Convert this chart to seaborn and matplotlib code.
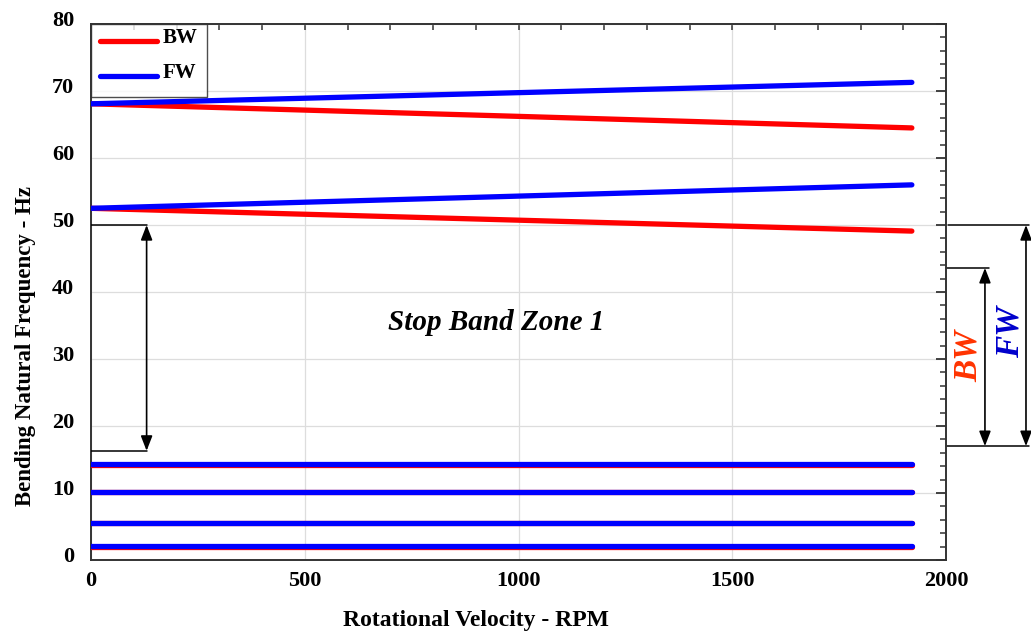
import matplotlib
matplotlib.use("Agg")
import matplotlib.pyplot as plt
import matplotlib.transforms as mtransforms
from matplotlib.ticker import MultipleLocator
import pandas as pd
import seaborn as sns

# Rotor speed range (RPM) at which each whirl branch is evaluated
rpm = [0, 1920]

# Backward-whirl (BW) and forward-whirl (FW) bending frequencies, Hz
bw_mode1 = [2.0, 2.0]
fw_mode1 = [2.04, 2.04]
bw_mode2 = [5.5, 5.5]
fw_mode2 = [5.55, 5.55]
bw_mode3 = [10.1, 10.1]
fw_mode3 = [10.15, 10.15]
bw_mode4 = [14.25, 14.25]
fw_mode4 = [14.3, 14.3]
bw_mode5 = [52.5, 49.1]
fw_mode5 = [52.5, 56.0]
bw_mode6 = [68.1, 64.5]
fw_mode6 = [68.1, 71.3]

# Stop band limits, Hz
band_left = [50.0, 16.3]
band_bw = [43.6, 17.0]
band_fw = [50.0, 17.0]

sns.set_theme(style="white")
plt.rcParams["font.family"] = ["Liberation Serif", "DejaVu Serif"]
plt.rcParams["font.weight"] = "bold"
plt.rcParams["text.color"] = "black"
plt.rcParams["axes.labelcolor"] = "black"
plt.rcParams["xtick.color"] = "black"
plt.rcParams["ytick.color"] = "black"

fig = plt.figure(figsize=(10.31, 6.34), dpi=100)
ax = fig.add_axes([0.0883, 0.1167, 0.8293, 0.8453])

bw_modes = [bw_mode1, bw_mode2, bw_mode3, bw_mode4, bw_mode5, bw_mode6]
fw_modes = [fw_mode1, fw_mode2, fw_mode3, fw_mode4, fw_mode5, fw_mode6]
RED = "#ff0000"
BLUE = "#0000ff"
for i, (bw, fw) in enumerate(zip(bw_modes, fw_modes)):
    df = pd.DataFrame({"rpm": rpm, "BW": bw, "FW": fw})
    sns.lineplot(data=df, x="rpm", y="BW", ax=ax, color=RED, lw=3.8,
                 label="BW" if i == 0 else None, zorder=3)
    sns.lineplot(data=df, x="rpm", y="FW", ax=ax, color=BLUE, lw=3.8,
                 label="FW" if i == 0 else None, zorder=4)

ax.set_xlim(0, 2000)
ax.set_ylim(0, 80)
ax.xaxis.set_major_locator(MultipleLocator(500))
ax.xaxis.set_minor_locator(MultipleLocator(100))
ax.yaxis.set_major_locator(MultipleLocator(10))
ax.yaxis.set_minor_locator(MultipleLocator(2))
ax.grid(True, which="major", color="#dddddd", lw=0.9)
ax.tick_params(which="both", direction="in", top=True, right=True,
               color="#333333", labelsize=16)
ax.tick_params(axis="y", which="major", length=7, width=1.3, pad=12)
ax.tick_params(axis="y", which="minor", length=4, width=1.1)
ax.tick_params(axis="x", which="both", length=4, width=1.1, pad=8)
for lab in ax.get_xticklabels() + ax.get_yticklabels():
    lab.set_fontweight("bold")
# nudge the y tick labels slightly upward
shift = mtransforms.ScaledTranslation(0, 6 / 100, fig.dpi_scale_trans)
for lab in ax.get_yticklabels():
    lab.set_transform(lab.get_transform() + shift)
for sp in ax.spines.values():
    sp.set_color("#333333")
    sp.set_linewidth(1.4)

ax.set_xlabel("Rotational Velocity - RPM", fontsize=17, fontweight="bold")
ax.set_ylabel("Bending Natural Frequency - Hz", fontsize=16.5,
              fontweight="bold")
ax.xaxis.set_label_coords(0.45, -0.093)
ax.yaxis.set_label_coords(-0.064, 0.40)

leg = ax.legend(loc="upper left", borderaxespad=0.0, fontsize=15,
                frameon=True, fancybox=False, handlelength=2.7,
                handletextpad=0.3, borderpad=0.45, labelspacing=0.7)
leg.get_frame().set_edgecolor("#222222")
leg.get_frame().set_linewidth(1.0)
for t in leg.get_texts():
    t.set_fontweight("bold")
    t.set_va("bottom")

# Stop band bracket inside the plot
arrow = dict(arrowstyle="<|-|>,head_length=0.9,head_width=0.35",
             color="black", lw=1.2, mutation_scale=10, shrinkA=0, shrinkB=0)
ax.plot([0, 130], [band_left[0], band_left[0]], color="black", lw=1.1, zorder=5)
ax.plot([0, 130], [band_left[1], band_left[1]], color="black", lw=1.1, zorder=5)
ax.annotate("", xy=(130, band_left[0]), xytext=(130, band_left[1]),
            arrowprops=arrow, zorder=5)
ax.text(947, 35.5, "Stop Band Zone 1", fontsize=21, fontstyle="italic",
        fontweight="bold", ha="center", va="center")

# Stop band brackets to the right of the plot
ax.plot([2005, 2195], [band_fw[0], band_fw[0]], color="black", lw=1.1,
        clip_on=False)
ax.plot([2000, 2100], [band_bw[0], band_bw[0]], color="black", lw=1.1,
        clip_on=False)
ax.plot([2000, 2195], [band_fw[1], band_fw[1]], color="black", lw=1.1,
        clip_on=False)
ax.annotate("", xy=(2091, band_bw[0]), xytext=(2091, band_bw[1]),
            arrowprops=arrow, annotation_clip=False)
ax.annotate("", xy=(2187, band_fw[0]), xytext=(2187, band_fw[1]),
            arrowprops=arrow, annotation_clip=False)
ax.text(2051, 30.4, "BW", color="#ff3300", fontsize=24, fontstyle="italic",
        fontweight="bold", rotation=90, ha="center", va="center",
        clip_on=False)
ax.text(2150, 34.0, "FW", color="#0000cc", fontsize=24, fontstyle="italic",
        fontweight="bold", rotation=90, ha="center", va="center",
        clip_on=False)

fig.savefig("out.png", dpi=100)
